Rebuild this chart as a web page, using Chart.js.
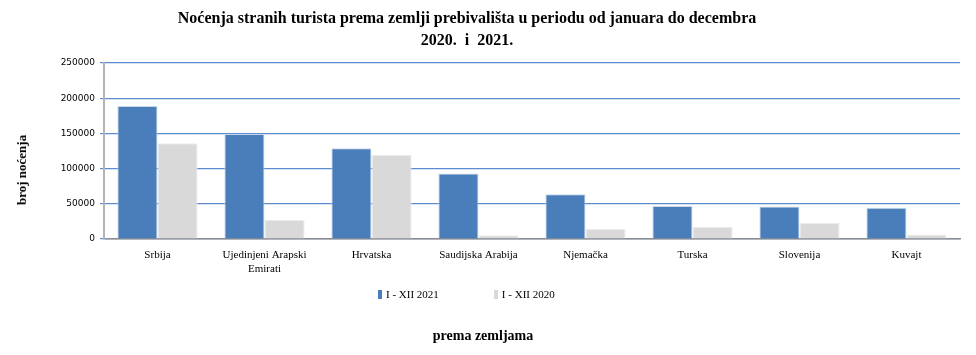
<!DOCTYPE html>
<html><head><meta charset="utf-8">
<script src="https://cdn.jsdelivr.net/npm/chart.js@4.4.1/dist/chart.umd.min.js"></script>
<style>
html,body{margin:0;padding:0;background:#fff;}
#wrap{position:relative;width:976px;height:355px;overflow:hidden;}
canvas{position:absolute;left:0;top:0;}
.t{position:absolute;font-family:"Liberation Serif",serif;font-weight:bold;color:#000;white-space:nowrap;}
#title{left:0;width:934px;top:7px;text-align:center;font-size:16px;line-height:22px;}
#ytitle{left:22px;top:170px;font-size:13px;transform:translate(-50%,-50%) rotate(-90deg);}
#xtitle{left:483px;top:336px;font-size:14px;transform:translate(-50%,-50%);}
#legend{position:absolute;top:288px;left:378px;font-family:"Liberation Serif",serif;font-size:11px;color:#000;white-space:nowrap;}
#legend span.item{display:inline-block;margin-right:55px;}
#legend i{display:inline-block;width:4px;height:9px;margin-right:4px;vertical-align:-1px;}
</style></head>
<body><div id="wrap">
<canvas id="c" width="976" height="355"></canvas>
<div class="t" id="title">Noćenja stranih turista prema zemlji prebivališta u periodu od januara do decembra<br>2020.&nbsp; i&nbsp; 2021.</div>
<div class="t" id="ytitle">broj noćenja</div>
<div class="t" id="xtitle">prema zemljama</div>
<div id="legend"></div>
</div>
<script>
const categories = ["Srbija", ["Ujedinjeni Arapski","Emirati"], "Hrvatska", "Saudijska Arabija", "Njemačka", "Turska", "Slovenija", "Kuvajt"];
const seriesNames = ["I - XII 2021", "I - XII 2020"];
const values2021 = [189000, 149000, 129000, 93000, 63500, 47000, 46000, 44500];
const values2020 = [136000, 27500, 119500, 5500, 14500, 17500, 23000, 6500];
const yTicks = [0, 50000, 100000, 150000, 200000, 250000];
const colors = ["#4a7ebb", "#d9d9d9"];

const leg = document.getElementById('legend');
seriesNames.forEach((n,i)=>{
  const s=document.createElement('span');s.className='item';
  s.innerHTML='<i style="background:'+colors[i]+'"></i>'+n;
  leg.appendChild(s);
});

new Chart(document.getElementById('c'), {
  type:'bar',
  data:{labels:categories, datasets:[
    {label:seriesNames[0], data:values2021, backgroundColor:colors[0], borderColor:'#c7d7ec', borderWidth:1, categoryPercentage:0.75, barPercentage:1},
    {label:seriesNames[1], data:values2020, backgroundColor:colors[1], borderColor:'#eeeeee', borderWidth:1, categoryPercentage:0.75, barPercentage:1}
  ]},
  options:{
    responsive:false, animation:false,
    layout:{padding:{left:0,right:16,top:63,bottom:0}},
    plugins:{legend:{display:false}, title:{display:false}, tooltip:{enabled:false}},
    scales:{
      x:{
        grid:{display:false},
        border:{color:'#8c8c8c', width:1.5},
        ticks:{font:{family:'"Liberation Serif", serif', size:11}, color:'#000', padding:2, maxRotation:0, autoSkip:false},
        afterFit:(s)=>{s.height=116;}
      },
      y:{
        min:0, max:250000,
        afterBuildTicks:(s)=>{s.ticks=yTicks.map(v=>({value:v}));},
        grid:{color:'#5b8bd0', lineWidth:1.2, tickLength:4, drawTicks:true},
        border:{color:'#b3b3b3', width:2},
        ticks:{font:{family:'"DejaVu Sans", sans-serif', size:9}, color:'#000', padding:5, callback:(v)=>String(v)},
        afterFit:(s)=>{s.width=104;}
      }
    }
  }
});
</script>
</body></html>
